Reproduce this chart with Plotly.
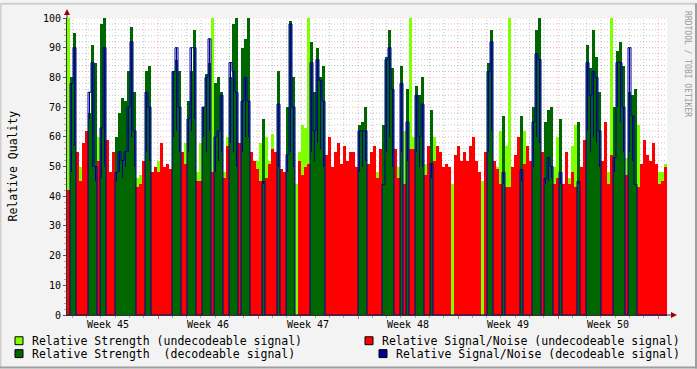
import plotly.graph_objects as go

# ---------------- data (one value per time slot, ~5 h each) ----------------
week_labels = ["Week 45", "Week 46", "Week 47", "Week 48", "Week 49", "Week 50"]

# 1 = signal was decodeable in that slot, 0 = undecodeable
decodeable = [
    0, 1, 1, 0, 0, 0, 0, 1, 1, 1, 0, 1, 1, 0, 0, 0, 1, 1, 1, 1,
    1, 1, 1, 0, 0, 0, 1, 1, 0, 0, 0, 0, 0, 0, 0, 1, 1, 1, 0, 0,
    1, 1, 1, 0, 0, 1, 1, 1, 0, 1, 1, 1, 0, 0, 1, 1, 1, 0, 1, 1,
    1, 0, 0, 0, 0, 1, 0, 0, 0, 0, 1, 0, 0, 1, 1, 1, 0, 0, 0, 0,
    0, 1, 1, 1, 1, 1, 0, 0, 0, 0, 0, 0, 0, 0, 0, 0, 0, 1, 1, 1,
    0, 0, 0, 0, 0, 1, 1, 1, 1, 0, 0, 1, 0, 1, 0, 0, 1, 1, 1, 0,
    0, 1, 0, 0, 0, 0, 0, 0, 0, 0, 0, 0, 0, 0, 0, 0, 0, 0, 0, 0,
    1, 1, 0, 0, 0, 1, 0, 0, 0, 0, 0, 1, 0, 0, 0, 1, 1, 1, 0, 1,
    1, 1, 0, 0, 1, 0, 0, 0, 0, 0, 1, 0, 0, 1, 1, 1, 1, 1, 0, 0,
    0, 0, 1, 1, 1, 1, 0, 1, 1, 1, 0, 0, 0, 0, 0, 0, 0, 0, 0, 0,
]

relative_strength = [
    100, 80, 95, 52, 50, 48, 55, 68, 91, 85, 60, 98, 100, 58, 44, 52, 60, 68, 73, 72,
    82, 97, 75, 46, 47, 46, 82, 84, 44, 44, 52, 50, 44, 44, 44, 82, 86, 82, 50, 58,
    72, 82, 96, 48, 58, 70, 81, 85, 100, 78, 80, 75, 48, 60, 80, 98, 100, 55, 90, 93,
    100, 50, 46, 52, 58, 66, 60, 52, 61, 50, 82, 48, 46, 70, 99, 80, 44, 55, 64, 63,
    100, 92, 75, 90, 80, 84, 50, 56, 45, 46, 46, 46, 46, 46, 48, 46, 46, 64, 65, 70,
    50, 52, 53, 48, 48, 64, 87, 96, 83, 52, 50, 84, 62, 76, 100, 60, 77, 74, 80, 51,
    48, 69, 60, 50, 48, 46, 44, 45, 44, 44, 46, 46, 46, 46, 44, 44, 44, 46, 45, 54,
    85, 96, 46, 50, 62, 67, 57, 100, 44, 46, 46, 67, 62, 46, 44, 70, 96, 100, 46, 65,
    69, 70, 50, 60, 66, 44, 44, 46, 57, 64, 65, 46, 46, 91, 83, 96, 87, 75, 50, 52,
    48, 100, 70, 89, 92, 84, 53, 75, 74, 76, 64, 46, 46, 46, 46, 46, 46, 48, 48, 51,
]

# signal/noise (max in the slot)
relative_snr = [
    42, 78, 90, 55, 45, 58, 62, 75, 85, 50, 52, 63, 90, 59, 48, 55, 48, 55, 52, 55,
    70, 92, 62, 43, 44, 52, 75, 70, 48, 50, 48, 58, 50, 51, 49, 82, 90, 70, 55, 51,
    66, 90, 90, 45, 45, 70, 80, 93, 48, 60, 62, 74, 46, 57, 85, 82, 75, 58, 72, 80,
    72, 55, 52, 49, 45, 45, 46, 51, 56, 55, 71, 49, 48, 54, 98, 70, None, 52, 47, 50,
    51, 85, 62, 86, 79, 72, 54, 60, 50, 55, 58, 51, 57, 52, 55, 55, 50, 62, 62, 62,
    51, 55, 57, 46, 56, 44, 86, 90, 76, 56, 46, 78, 44, 65, 56, 56, 74, 60, 71, 47,
    57, 51, 52, 57, 55, 50, 51, 50, None, 54, 57, 52, 55, 52, 57, 60, 52, 48, None, 55,
    82, 92, 52, 49, 44, 48, 43, 43, 50, 54, 60, 49, 51, 57, 52, 65, 88, 86, 55, 46,
    53, 50, 44, 46, 48, 44, 55, 44, 48, 43, 45, 50, 59, 85, 74, 82, 80, 62, 52, 65,
    44, 54, 53, 85, 85, 70, 47, 90, 67, 44, 43, 51, 59, 54, 52, 58, 51, 44, 45, 50,
]

# signal/noise minimum within the slot (decodeable slots only)
relative_snr_min = [
    None, 48, 57, None, None, None, None, 66, 50, 45, None, 46, 50, None, None, None, 45, 48, 46, 50,
    55, 60, 50, None, None, None, 55, 52, None, None, None, None, None, None, None, 60, 62, 55, None, None,
    55, 62, 66, None, None, 60, 55, 62, None, 48, 52, 55, None, None, 58, 55, 50, None, 55, 60,
    60, None, None, None, None, 44, None, None, None, None, 50, None, None, 48, 55, 50, None, None, None, None,
    None, 55, 52, 58, 56, 50, None, None, None, None, None, None, None, None, None, None, None, 48, 50, 52,
    None, None, None, None, None, 44, 55, 60, 50, None, None, 55, None, 52, None, None, 55, 50, 50, None,
    None, 46, None, None, None, None, None, None, None, None, None, None, None, None, None, None, None, None, None, None,
    55, 62, None, None, None, 44, None, None, None, None, None, 45, None, None, None, 50, 60, 58, None, 44,
    45, 46, None, None, 44, None, None, None, None, None, 44, None, None, 62, 55, 60, 58, 50, None, None,
    None, None, 48, 70, 65, 55, None, 55, 52, 44, None, None, None, None, None, None, None, None, None, None,
]

# ---------------- geometry / style ----------------
W, H = 697, 369
L, T, PW, PH = 67, 15, 600, 300
R, B = W - L - PW, H - T - PH
T0, STEP = 15.0, 5.04          # hours since Monday of week 45, hours per slot
N = len(relative_strength)
FONT = "DejaVu Sans Mono"

LIME, DGREEN, RED, BLUE = "#7FFF00", "#006600", "#FF0000", "#000099"

xc = [T0 + (i + 0.5) * STEP for i in range(N)]
str_undec = [s if not d else None for s, d in zip(relative_strength, decodeable)]
snr_undec = [n if not d else None for n, d in zip(relative_snr, decodeable)]
str_dec = [s if d else None for s, d in zip(relative_strength, decodeable)]
snr_dec = [(n if n is not None else 0) if d else 0 for n, d in zip(relative_snr, decodeable)]
blue_base = [lo if d else None for lo, d in zip(relative_snr_min, decodeable)]
blue_h = [(n - lo) if d else None for n, lo, d in zip(relative_snr, relative_snr_min, decodeable)]

fig = go.Figure()
fig.add_bar(x=xc, y=str_undec, width=STEP, marker=dict(color=LIME, line_width=0),
            name="Relative Strength (undecodeable signal)")
fig.add_bar(x=xc, y=snr_undec, width=STEP, marker=dict(color=RED, line_width=0),
            name="Relative Signal/Noise (undecodeable signal)")
fig.add_bar(x=xc, y=str_dec, width=STEP, marker=dict(color=DGREEN, line_width=0),
            name="Relative Strength  (decodeable signal)")
fig.add_bar(x=xc, y=blue_h, base=blue_base, width=STEP * 0.5, marker=dict(color=BLUE, line_width=0),
            name="Relative Signal/Noise (decodeable signal)")
xe = [T0 + i * STEP for i in range(N + 1)]
fig.add_scatter(x=xe, y=snr_dec + [snr_dec[-1]], mode="lines",
                line=dict(color=BLUE, width=1, shape="hv"), showlegend=False)

x_end = T0 + N * STEP

MAJ = "rgba(255,95,95,0.5)"
MIN = "rgba(150,150,150,0.55)"
DASH = "1px,2px"

fig.update_layout(
    width=W, height=H,
    margin=dict(l=L, r=R, t=T, b=B, pad=0),
    paper_bgcolor="#F3F3F3", plot_bgcolor="#FFFFFF",
    barmode="overlay", bargap=0, showlegend=False,
    font=dict(family=FONT, size=10, color="#000000"),
    xaxis=dict(range=[T0, x_end], tickvals=[168 * k for k in range(1, 7)], ticktext=[""] * 6,
               showgrid=False, ticks="outside", ticklen=3, tickcolor="#FF5F5F",
               minor=dict(dtick=24, tick0=0, showgrid=False, ticks="outside", ticklen=2, tickcolor="#AAAAAA"),
               showline=True, linecolor="#333333", linewidth=1, zeroline=False, fixedrange=True),
    yaxis=dict(range=[0, 100], tickvals=list(range(0, 101, 10)),
               showgrid=False, ticks="outside", ticklen=3, tickcolor="#555555",
               minor=dict(dtick=2, showgrid=False, ticks="outside", ticklen=2, tickcolor="#AAAAAA"),
               showline=True, linecolor="#333333", linewidth=1, zeroline=False,
               tickfont=dict(size=10), fixedrange=True),
)

def px(xp):
    return (xp - L) / PW

def py(yp):
    return (T + PH - yp) / PH

shapes = []
# dotted grid (behind the graph)
for v in range(2, 101, 2):
    shapes.append(dict(type="line", xref="paper", yref="y", x0=0, x1=1, y0=v, y1=v, layer="below",
                       line=dict(color=MAJ if v % 10 == 0 else MIN, width=1, dash=DASH)))
for hr in range(24, int(x_end), 24):
    if hr <= T0:
        continue
    shapes.append(dict(type="line", xref="x", yref="paper", x0=hr, x1=hr, y0=0, y1=1, layer="below",
                       line=dict(color=MAJ if hr % 168 == 0 else MIN, width=1, dash=DASH)))

# outer 3D border
shapes.append(dict(type="line", xref="paper", yref="paper", x0=px(0.5), x1=px(W - 0.5), y0=py(0.5), y1=py(0.5),
                   line=dict(color="#CFCFCF", width=2)))
shapes.append(dict(type="line", xref="paper", yref="paper", x0=px(0.5), x1=px(0.5), y0=py(0.5), y1=py(H - 0.5),
                   line=dict(color="#CFCFCF", width=2)))
shapes.append(dict(type="line", xref="paper", yref="paper", x0=px(0), x1=px(W), y0=py(H - 1), y1=py(H - 1),
                   line=dict(color="#9E9E9E", width=2)))
shapes.append(dict(type="line", xref="paper", yref="paper", x0=px(W - 1), x1=px(W - 1), y0=py(0), y1=py(H),
                   line=dict(color="#9E9E9E", width=2)))
# axis extensions and arrows
shapes.append(dict(type="line", xref="paper", yref="paper", x0=1, x1=px(L + PW + 4), y0=0, y1=0,
                   line=dict(color="#333333", width=1)))
shapes.append(dict(type="line", xref="paper", yref="paper", x0=0, x1=0, y0=1, y1=py(T - 4),
                   line=dict(color="#333333", width=1)))
ax_r = L + PW + 4
shapes.append(dict(type="path", xref="paper", yref="paper",
                   path=f"M {px(ax_r)} {py(T + PH - 3)} L {px(ax_r + 6)} {py(T + PH)} L {px(ax_r)} {py(T + PH + 3)} Z",
                   fillcolor="#A00000", line=dict(color="#A00000", width=0)))
shapes.append(dict(type="path", xref="paper", yref="paper",
                   path=f"M {px(L - 3)} {py(T - 3)} L {px(L)} {py(T - 9)} L {px(L + 3)} {py(T - 3)} Z",
                   fillcolor="#A00000", line=dict(color="#A00000", width=0)))

# legend swatches + texts
legend_items = [
    (LIME, 15, 337, 30, "Relative Strength (undecodeable signal)"),
    (DGREEN, 15, 350, 30, "Relative Strength  (decodeable signal)"),
    (RED, 365, 337, 380, "Relative Signal/Noise (undecodeable signal)"),
    (BLUE, 379, 350, 394, "Relative Signal/Noise (decodeable signal)"),
]
annotations = []
for color, sx, sy, tx, label in legend_items:
    shapes.append(dict(type="rect", xref="paper", yref="paper",
                       x0=px(sx), x1=px(sx + 8), y0=py(sy), y1=py(sy + 8),
                       fillcolor=color, line=dict(color="#000000", width=1)))
    annotations.append(dict(xref="paper", yref="paper", x=px(tx), y=py(sy + 4.5),
                            xanchor="left", yanchor="middle", showarrow=False,
                            text=label, font=dict(family=FONT, size=11.5, color="#000000")))

for k, lab in enumerate(week_labels):
    annotations.append(dict(xref="x", yref="paper", x=84 + 168 * k, y=py(325),
                            xanchor="center", yanchor="middle", showarrow=False,
                            text=lab, font=dict(family=FONT, size=10, color="#000000")))

annotations.append(dict(xref="paper", yref="paper", x=px(12), y=py(165), textangle=-90,
                        xanchor="center", yanchor="middle", showarrow=False,
                        text="Relative Quality", font=dict(family=FONT, size=11.5, color="#000000")))
annotations.append(dict(xref="paper", yref="paper", x=px(688), y=py(6), textangle=90,
                        xanchor="center", yanchor="top", showarrow=False,
                        text="RRDTOOL / TOBI OETIKER", font=dict(family=FONT, size=8, color="#9A9A9A")))

fig.update_layout(shapes=shapes, annotations=annotations)
fig.write_html("out.html", config={"displayModeBar": False, "staticPlot": True},
               post_script="document.body.style.margin='0';document.body.style.padding='0';")
